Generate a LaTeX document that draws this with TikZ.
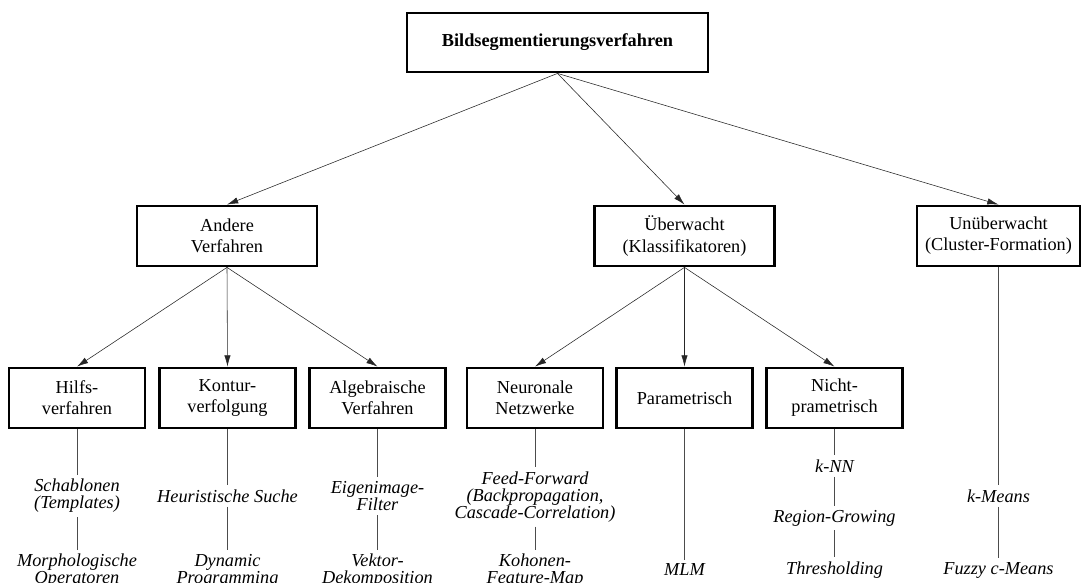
\documentclass[tikz,border=0pt]{standalone}
\usepackage{fontspec}
\setmainfont{Liberation Serif}
\usepackage{tikz}
\usetikzlibrary{positioning,arrows.meta}

\begin{document}
\begin{tikzpicture}[
          x=0.025cm,y=-0.025cm,
          every node/.style={font=\fontsize{13}{15}\selectfont},
          box/.style={draw,line width=2pt,align=center,minimum height=1.5cm,inner sep=1pt},
          cbox/.style={box,minimum width=3.4cm},
          leaf/.style={font=\fontsize{13}{12}\selectfont\itshape,align=center,inner sep=3pt},
          arr/.style={-{Latex[length=8pt,width=4.5pt]},gray!30!black,thin},
          tline/.style={gray!60!black,thin},
        ]
        \useasboundingbox (0,0) rectangle (1088,583);
        \node[box,minimum width=7.525cm,minimum height=1.475cm,font=\fontsize{13}{15}\selectfont\bfseries] (root) at (557.5,42.5) {Bildsegmentierungsverfahren};
        \node[box,minimum width=4.5cm] (andere) at (227,236) {Andere\\Verfahren};
        \node[box,minimum width=4.5cm] (ueber) at (684.5,236) {Überwacht\\(Klassifikatoren)};
        \node[box,minimum width=4.075cm] (unueber) at (998.5,236) {Unüberwacht\\(Cluster-Formation)};
        \foreach \n/\xx/\txt in {hilf/77/{Hilfs-\\verfahren},kontur/227.5/{Kontur-\\verfolgung},alg/377.5/{Algebraische\\Verfahren},neuro/535/{Neuronale\\Netzwerke},param/684.5/{Parametrisch},nicht/834.5/{Nicht-\\prametrisch}} {
          \node[cbox] (\n) at (\xx,398) {\txt};
        }
        \foreach \c in {andere,ueber,unueber} {
          \draw[arr] (root.south) -- (\c.north);
        }
        \foreach \c in {hilf,kontur,alg} {
          \draw[arr] (andere.south) -- (\c.north);
        }
        \foreach \c in {neuro,param,nicht} {
          \draw[arr] (ueber.south) -- (\c.north);
        }
        \node[leaf] (hilfA) at (77,496) {Schablonen\\(Templates)};
        \node[leaf] (hilfB) at (77,571) {Morphologische\\Operatoren};
        \node[leaf] (konturA) at (227.5,496) {Heuristische Suche};
        \node[leaf] (konturB) at (227.5,571) {Dynamic\\Programming};
        \node[leaf] (algA) at (377.5,496) {Eigenimage-\\Filter};
        \node[leaf] (algB) at (377.5,571) {Vektor-\\Dekomposition};
        \node[leaf] (neuroA) at (535,497) {Feed-Forward\\(Backpropagation,\\Cascade-Correlation)};
        \node[leaf] (neuroB) at (535,571) {Kohonen-\\Feature-Map};
        \node[leaf] (paramA) at (684.5,570) {MLM};
        \node[leaf] (nichtA) at (834.5,466) {k-NN};
        \node[leaf] (nichtB) at (834.5,518) {Region-Growing};
        \node[leaf] (nichtC) at (834.5,570) {Thresholding};
        \node[leaf] (unueberA) at (998.5,496) {k-Means};
        \node[leaf] (unueberB) at (998.5,570) {Fuzzy c-Means};
        \foreach \c in {hilf,kontur,alg,neuro} {
          \draw[tline] (\c) -- (\c A) -- (\c B);
        }
        \draw[tline] (param) -- (paramA);
        \draw[tline] (nicht) -- (nichtA) -- (nichtB) -- (nichtC);
        \draw[tline] (unueber) -- (unueberA) -- (unueberB);
\end{tikzpicture}
\end{document}
